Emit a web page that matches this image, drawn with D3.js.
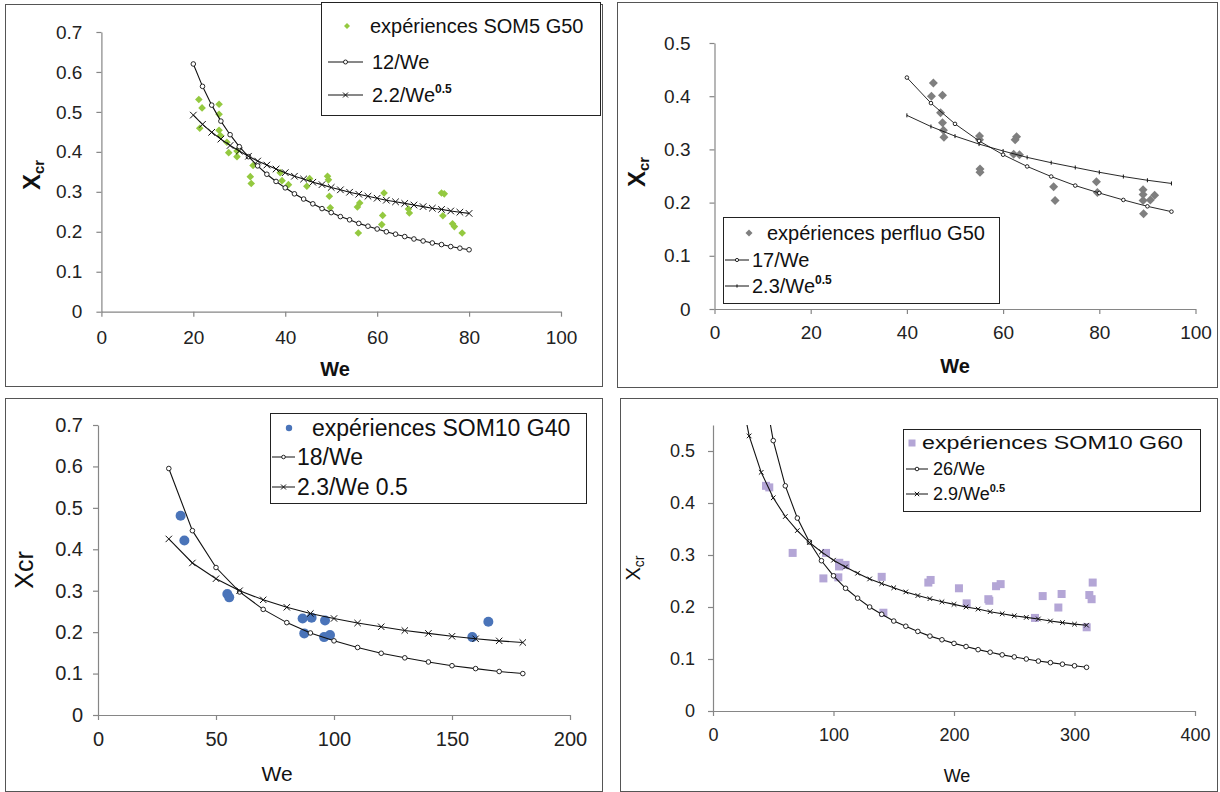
<!DOCTYPE html>
<html><head><meta charset="utf-8">
<script src="https://cdn.jsdelivr.net/npm/d3@7"></script>
<style>
body{margin:0;background:#fff;}
svg{display:block;font-family:Arial,"Liberation Sans",Helvetica,sans-serif;}
</style></head>
<body><svg id="c" width="1220" height="792"></svg>
<script>
// ---------------- Panel 1 : SOM5 G50 ----------------
const p1Exp = [[21.2,0.531],[21.9,0.51],[21.4,0.459],[25.6,0.519],[25.6,0.494],[25.6,0.454],[25.9,0.441],[27.3,0.424],[27.7,0.398],[29.5,0.402],[29.5,0.388],[33,0.366],[32.4,0.338],[32.6,0.321],[38.9,0.348],[39.3,0.328],[40.7,0.318],[45.3,0.333],[44.7,0.314],[49.2,0.339],[49.4,0.33],[49.6,0.289],[49.8,0.26],[56.2,0.272],[55.7,0.262],[55.9,0.197],[61.5,0.297],[61.2,0.241],[61,0.218],[66.8,0.257],[67,0.247],[74,0.297],[74.6,0.295],[74.3,0.24],[76.4,0.22],[76.8,0.213],[78.5,0.197]];
const p1We = [20,22,24,26,28,30,32,34,36,38,40,42,44,46,48,50,52,54,56,58,60,62,64,66,68,70,72,74,76,78,80];
const p1FitA = [0.620,0.564,0.517,0.477,0.443,0.413,0.388,0.365,0.344,0.326,0.310,0.295,0.282,0.270,0.258,0.248,0.238,0.230,0.221,0.214,0.207,0.200,0.194,0.188,0.182,0.177,0.172,0.168,0.163,0.159,0.155];
const p1FitB = [0.492,0.469,0.449,0.432,0.416,0.402,0.389,0.377,0.367,0.357,0.348,0.339,0.332,0.324,0.318,0.311,0.305,0.299,0.294,0.289,0.284,0.279,0.275,0.271,0.267,0.263,0.259,0.256,0.252,0.249,0.246];
const p1XTicks = [0,20,40,60,80,100];
const p1YTicks = [0,0.1,0.2,0.3,0.4,0.5,0.6,0.7];

// ---------------- Panel 2 : perfluo G50 ----------------
const p2Exp = [[45.5,0.425],[45.1,0.40],[47.4,0.402],[47.0,0.369],[47.4,0.35],[47.6,0.336],[47.7,0.323],[55.1,0.325],[55.1,0.318],[55.2,0.263],[55.2,0.257],[62.8,0.324],[62.5,0.318],[62.2,0.291],[63.4,0.29],[70.5,0.23],[70.8,0.204],[79.4,0.239],[79.6,0.219],[89.1,0.224],[89.1,0.215],[89.1,0.204],[90.6,0.205],[91.5,0.214],[89.2,0.179]];
const p2We = [40,45,50,55,60,65,70,75,80,85,90,95];
const p2FitA = [0.435,0.387,0.348,0.316,0.290,0.268,0.249,0.232,0.218,0.205,0.193,0.183];
const p2FitB = [0.364,0.343,0.325,0.310,0.297,0.285,0.275,0.266,0.257,0.249,0.242,0.236];
const p2XTicks = [0,20,40,60,80,100];
const p2YTicks = [0,0.1,0.2,0.3,0.4,0.5];

// ---------------- Panel 3 : SOM10 G40 ----------------
const p3Exp = [[35,0.481],[36.6,0.421],[54.8,0.292],[55.6,0.284],[86.7,0.233],[90.5,0.235],[96.2,0.228],[87.4,0.197],[95.8,0.188],[98.3,0.193],[158.6,0.188],[165.4,0.225]];
const p3We = [30,40,50,60,70,80,90,100,110,120,130,140,150,160,170,180];
const p3FitA = [0.595,0.445,0.356,0.297,0.255,0.223,0.198,0.179,0.163,0.149,0.138,0.128,0.119,0.112,0.105,0.100];
const p3FitB = [0.425,0.367,0.329,0.300,0.278,0.260,0.245,0.233,0.222,0.213,0.204,0.197,0.190,0.184,0.179,0.175];
const p3XTicks = [0,50,100,150,200];
const p3YTicks = [0,0.1,0.2,0.3,0.4,0.5,0.6,0.7];

// ---------------- Panel 4 : SOM10 G60 ----------------
const p4Exp = [[44,0.433],[46.7,0.43],[66.1,0.304],[93.8,0.304],[91.6,0.255],[104.8,0.285],[104.6,0.278],[110,0.281],[104,0.257],[140,0.258],[141.4,0.189],[178.7,0.247],[180.6,0.252],[204.1,0.236],[210.5,0.207],[228.5,0.215],[229.3,0.212],[234.9,0.24],[238.7,0.244],[267.2,0.179],[273.6,0.221],[286.6,0.199],[289.3,0.225],[310.1,0.161],[312.3,0.223],[314.2,0.215],[315.1,0.247]];
const p4WeA = [40,50,60,70,80,90,100,110,120,130,140,150,160,170,180,190,200,210,220,230,240,250,260,270,280,290,300,310];
const p4FitA = [0.650,0.520,0.433,0.371,0.325,0.289,0.260,0.236,0.217,0.200,0.186,0.173,0.163,0.153,0.144,0.137,0.130,0.124,0.118,0.113,0.108,0.104,0.100,0.096,0.093,0.090,0.087,0.084];
const p4WeB = [20,30,40,50,60,70,80,90,100,110,120,130,140,150,160,170,180,190,200,210,220,230,240,250,260,270,280,290,300,310];
const p4FitB = [0.648,0.529,0.459,0.410,0.374,0.347,0.324,0.306,0.290,0.277,0.265,0.254,0.245,0.237,0.229,0.222,0.216,0.210,0.205,0.200,0.196,0.191,0.187,0.183,0.180,0.177,0.173,0.170,0.167,0.165];
const p4XTicks = [0,100,200,300,400];
const p4YTicks = [0,0.1,0.2,0.3,0.4,0.5];

const svg = d3.select('#c');
const AXIS = '#868686';

function panel(cfg){
  const g = svg.append('g');
  g.append('rect').attr('x',cfg.frame[0]+0.5).attr('y',cfg.frame[1]+0.5)
    .attr('width',cfg.frame[2]).attr('height',cfg.frame[3])
    .attr('fill','#fff').attr('stroke','#555').attr('stroke-width',1);
  const x = d3.scaleLinear().domain(cfg.xDom).range(cfg.xR);
  const y = d3.scaleLinear().domain(cfg.yDom).range(cfg.yR);
  const fmtY = d => d===0 ? '0' : d.toFixed(1);
  const ax = g.append('g').attr('transform',`translate(0,${cfg.yR[0]})`)
    .call(d3.axisBottom(x).tickValues(cfg.xTicks).tickSize(5).tickSizeOuter(0).tickPadding(cfg.xPad));
  const ay = g.append('g').attr('transform',`translate(${cfg.xR[0]},0)`)
    .call(d3.axisLeft(y).tickValues(cfg.yTicks).tickFormat(fmtY).tickSize(5).tickSizeOuter(0).tickPadding(cfg.yPad));
  [ax,ay].forEach(a=>{
    a.select('.domain').attr('stroke',AXIS).attr('stroke-width',1.2);
    a.selectAll('.tick line').attr('stroke',AXIS).attr('stroke-width',1.2);
    a.selectAll('.tick text').attr('fill','#222').attr('font-size',cfg.tickFont)
      .attr('font-family','Arial,"Liberation Sans",sans-serif');
  });
  const cid = 'clip'+cfg.id;
  g.append('clipPath').attr('id',cid).append('rect')
    .attr('x',cfg.xR[0]).attr('y',cfg.yR[1]).attr('width',cfg.xR[1]-cfg.xR[0]+20).attr('height',cfg.yR[0]-cfg.yR[1]);
  const pg = g.append('g').attr('clip-path',`url(#${cid})`);
  const ex = pg.append('g');
  cfg.exp.forEach(p=>drawPt(ex, cfg.expShape, x(p[0]), y(p[1]), cfg.expSize, cfg.expColor));
  cfg.fits.forEach(f=>{
    const pts = f.we.map((w,i)=>[w,f.v[i]]);
    pg.append('path').datum(pts)
      .attr('d',d3.line().x(d=>x(d[0])).y(d=>y(d[1])))
      .attr('fill','none').attr('stroke',f.color||'#111').attr('stroke-width',f.lw);
    pts.forEach(d=>drawMarker(pg,f.marker,x(d[0]),y(d[1]),f.ms,f.color||'#111'));
  });
  const L = cfg.legend;
  g.append('rect').attr('x',L.box[0]+0.5).attr('y',L.box[1]+0.5).attr('width',L.box[2]).attr('height',L.box[3])
    .attr('fill','#fff').attr('stroke','#222').attr('stroke-width',1);
  L.items.forEach((it,i)=>{
    const yy = L.rows[i];
    if(it.type==='pt'){
      drawPt(g,cfg.expShape,L.symX,yy,L.ptSize,cfg.expColor);
    } else {
      g.append('line').attr('x1',L.lineX[0]).attr('x2',L.lineX[1]).attr('y1',yy).attr('y2',yy)
        .attr('stroke','#111').attr('stroke-width',1);
      drawMarker(g,it.marker,(L.lineX[0]+L.lineX[1])/2,yy,it.ms,'#111');
    }
    const t = g.append('text').attr('x',L.textX[i]).attr('y',yy+L.baseOff)
      .attr('font-size',L.font).attr('fill','#111');
    if(it.len) t.attr('textLength',it.len).attr('lengthAdjust','spacingAndGlyphs');
    t.append('tspan').text(it.label);
    if(it.sup){
      t.append('tspan').text(it.sup).attr('font-size',L.supFont).attr('font-weight','bold').attr('dy',-L.supDy);
    }
  });
  const yl = g.append('text').attr('transform',`translate(${cfg.yLab[0]},${cfg.yLab[1]}) rotate(-90)`)
    .attr('text-anchor','middle').attr('font-size',cfg.yLabFont).attr('font-weight',cfg.bold?'bold':'normal').attr('fill','#111');
  yl.append('tspan').text('X');
  yl.append('tspan').text('cr').attr('font-size',cfg.subFont).attr('dy',cfg.subDy);
  g.append('text').attr('x',cfg.xLab[0]).attr('y',cfg.xLab[1]).attr('text-anchor','middle')
    .attr('font-size',cfg.xLabFont).attr('font-weight',cfg.bold?'bold':'normal').attr('fill','#111').text('We');
}

function drawPt(g,shape,cx,cy,s,color){
  if(shape==='diamond'){
    g.append('path').attr('d',`M${cx},${cy-s}L${cx+s},${cy}L${cx},${cy+s}L${cx-s},${cy}Z`).attr('fill',color);
  } else if(shape==='circle'){
    g.append('circle').attr('cx',cx).attr('cy',cy).attr('r',s).attr('fill',color);
  } else {
    g.append('rect').attr('x',cx-s).attr('y',cy-s).attr('width',2*s).attr('height',2*s).attr('fill',color);
  }
}
function drawMarker(g,m,cx,cy,s,color){
  if(m==='o'){
    g.append('circle').attr('cx',cx).attr('cy',cy).attr('r',s).attr('fill','#fff').attr('stroke',color).attr('stroke-width',0.9);
  } else if(m==='x'){
    g.append('path').attr('d',`M${cx-s},${cy-s}L${cx+s},${cy+s}M${cx-s},${cy+s}L${cx+s},${cy-s}`)
      .attr('stroke',color).attr('stroke-width',1);
  } else if(m==='+'){
    g.append('path').attr('d',`M${cx},${cy-s}L${cx},${cy+s}`).attr('stroke',color).attr('stroke-width',1);
  }
}

panel({id:1, frame:[5,4,597,382], xDom:[0,100], xR:[101.4,561], yDom:[0,0.7], yR:[311.7,32],
  xTicks:p1XTicks, yTicks:p1YTicks, xPad:14, yPad:14, tickFont:19,
  exp:p1Exp, expShape:'diamond', expSize:3.8, expColor:'#94c940',
  fits:[{we:p1We,v:p1FitA,marker:'o',ms:2.3,lw:1.1},{we:p1We,v:p1FitB,marker:'x',ms:3.3,lw:1.1}],
  legend:{box:[321,2,279,113], symX:347, lineX:[328,363], textX:[370,372,372], rows:[26,62,95], baseOff:7, font:20, supFont:12, supDy:9, ptSize:3,
    items:[{type:'pt',label:'expériences SOM5 G50'},{type:'line',marker:'o',ms:2,label:'12/We'},{type:'line',marker:'x',ms:2.5,label:'2.2/We',sup:'0.5'}]},
  yLab:[40,175], yLabFont:24, subFont:15, subDy:4, xLab:[335,376], xLabFont:20, bold:true});

panel({id:2, frame:[617,2,600,385], xDom:[0,100], xR:[714.5,1195.5], yDom:[0,0.5], yR:[309,43],
  xTicks:p2XTicks, yTicks:p2YTicks, xPad:12, yPad:19, tickFont:19,
  exp:p2Exp, expShape:'diamond', expSize:4.5, expColor:'#7f7f7f',
  fits:[{we:p2We,v:p2FitA,marker:'o',ms:1.8,lw:0.9},{we:p2We,v:p2FitB,marker:'+',ms:2,lw:0.9}],
  legend:{box:[723,217,276,86], symX:749, lineX:[725,749], textX:[767,752,752], rows:[233,260,286], baseOff:7, font:20, supFont:12, supDy:9, ptSize:3.5,
    items:[{type:'pt',label:'expériences perfluo G50'},{type:'line',marker:'o',ms:1.6,label:'17/We'},{type:'line',marker:'+',ms:1.6,label:'2.3/We',sup:'0.5'}]},
  yLab:[645,172], yLabFont:24, subFont:15, subDy:4, xLab:[955,373], xLabFont:20, bold:true});

panel({id:3, frame:[5,398,597,393], xDom:[0,200], xR:[98,570], yDom:[0,0.7], yR:[715,425],
  xTicks:p3XTicks, yTicks:p3YTicks, xPad:12, yPad:10, tickFont:20,
  exp:p3Exp, expShape:'circle', expSize:5, expColor:'#4a74b9',
  fits:[{we:p3We,v:p3FitA,marker:'o',ms:2.3,lw:1.1},{we:p3We,v:p3FitB,marker:'x',ms:3.2,lw:1.1}],
  legend:{box:[270,413,316,90], symX:289, lineX:[272,295], textX:[312,297,297], rows:[428,457,487], baseOff:8, font:23, supFont:23, supDy:0, ptSize:3.2,
    items:[{type:'pt',label:'expériences SOM10 G40'},{type:'line',marker:'o',ms:1.8,label:'18/We'},{type:'line',marker:'x',ms:2.5,label:'2.3/We 0.5'}]},
  yLab:[33,570], yLabFont:25, subFont:25, subDy:0, xLab:[277,781], xLabFont:21, bold:false});

panel({id:4, frame:[620,398,597,393], xDom:[0,400], xR:[713,1195], yDom:[0,0.55], yR:[711,425],
  xTicks:p4XTicks, yTicks:p4YTicks, xPad:12, yPad:13, tickFont:18,
  exp:p4Exp, expShape:'square', expSize:4, expColor:'#b4a6d6',
  fits:[{we:p4WeA,v:p4FitA,marker:'o',ms:2.3,lw:1.1},{we:p4WeB,v:p4FitB,marker:'x',ms:2.3,lw:1.1}],
  legend:{box:[903,429,297,82], symX:912, lineX:[906,928], textX:[922,933,933], rows:[443,469,494], baseOff:6, font:18, supFont:11, supDy:8, ptSize:3.5,
    items:[{type:'pt',label:'expériences SOM10 G60',len:261},{type:'line',marker:'o',ms:1.8,label:'26/We',len:52},{type:'line',marker:'x',ms:2.2,label:'2.9/We',sup:'0.5'}]},
  yLab:[640,568], yLabFont:20, subFont:14, subDy:4, xLab:[957,782], xLabFont:18, bold:false});
</script></body></html>
